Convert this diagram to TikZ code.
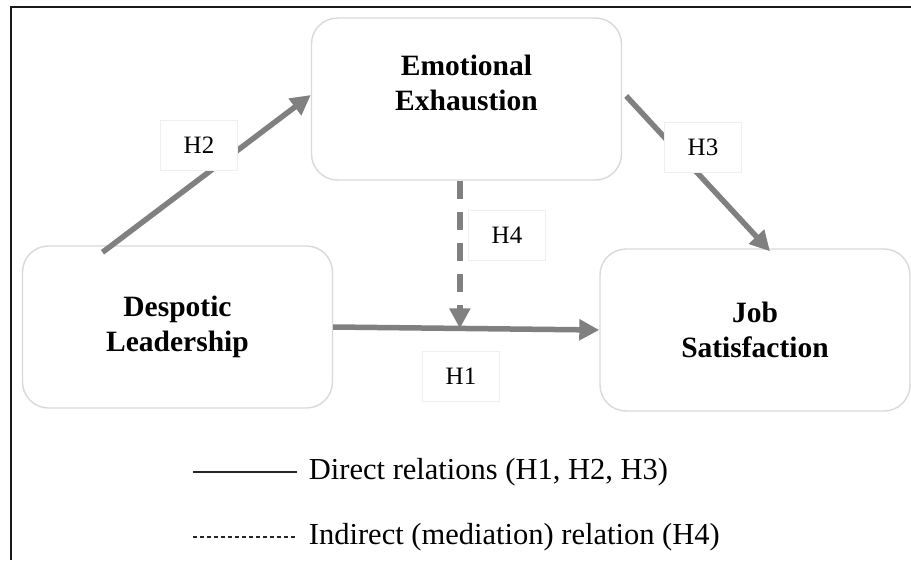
\documentclass[tikz,border=0pt]{standalone}
\usepackage{fontspec}
\setmainfont{Liberation Serif}
\usetikzlibrary{arrows.meta,positioning,calc}
\definecolor{boxgray}{HTML}{D9D9D9}
\definecolor{arrgray}{HTML}{808080}
\definecolor{labgray}{HTML}{EFEFEF}
\definecolor{framegray}{HTML}{1A1A1A}

\begin{document}
\begin{tikzpicture}[x=1pt,y=-1pt,
	box/.style={draw=boxgray,line width=1.4pt,rounded corners=26pt,minimum width=310pt,minimum height=162pt},
	boxtext/.style={align=center,font=\fontsize{29.5}{35}\selectfont\bfseries},
	rel/.style={arrgray,line width=5.5pt,-{Triangle[length=20pt,width=20pt]}},
	hyp/.style={draw=labgray,line width=1pt,fill=white,minimum width=77pt,minimum height=50pt,font=\fontsize{25}{25}\selectfont},
	leg/.style={black!85,line width=1.2pt},
	legtext/.style={anchor=west,black,xshift=8pt,font=\fontsize{30.5}{30.5}\selectfont}]
			\useasboundingbox (0,0) rectangle (911,560);
			\draw[framegray,line width=2.4pt] (911,7) -- (11,7) -- (11,560);

			\node[box] (ee) at (466.5,99) {};
			\node[boxtext] (eetext) at (466.5,83) {Emotional\\Exhaustion};
			\node[box,boxtext] (dl) at (177.5,327) {Despotic\\Leadership};
			\node[box,boxtext] (js) at (755,330) {Job\\Satisfaction};

			\draw[rel] ([xshift=-75pt,yshift=-7pt]dl.north) -- ([yshift=4pt]ee.west);
			\draw[rel] ([xshift=4pt,yshift=3pt]ee.east) -- ([xshift=15pt,yshift=-3pt]js.north);
			\draw[rel] (dl.east) -- coordinate[pos=0.476] (m) (js.west);
			\draw[rel,dash pattern=on 18pt off 13pt] (m |- ee.south) -- (m);

			\node[hyp] (h2) at (199,145) {H2};
			\node[hyp] (h3) at (703,147) {H3};
			\node[hyp] (h4) at (507,235) {H4};
			\node[hyp] (h1) at (461,376) {H1};

			% legend
			\coordinate (l1) at (193,472);
			\coordinate (l2) at (193,537);
			\draw[leg] (l1) -- ++(104,0) node[legtext] {Direct relations (H1, H2, H3)};
			\draw[leg,dash pattern=on 4pt off 3pt] (l2) -- ++(104,0) node[legtext] {Indirect (mediation) relation (H4)};
\end{tikzpicture}
\end{document}
